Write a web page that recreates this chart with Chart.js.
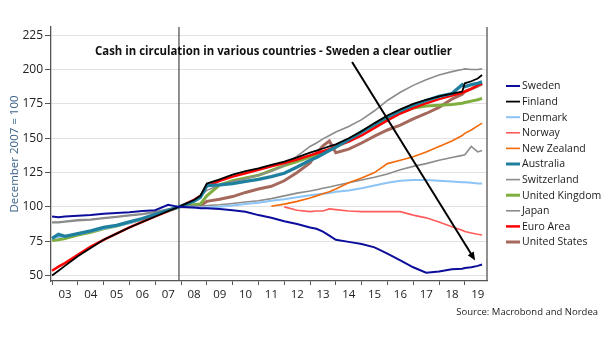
<!DOCTYPE html>
<html>
<head>
<meta charset="utf-8">
<script src="https://cdn.jsdelivr.net/npm/chart.js@4/dist/chart.umd.min.js"></script>
<style>
  html, body { margin: 0; padding: 0; background: #fff; }
  #wrap { position: relative; width: 605px; height: 341px; }
</style>
</head>
<body>
<div id="wrap"><canvas id="chart" width="605" height="341"></canvas></div>
<script>
/*************** Data (Dec 2007 = 100) *************************************/

var dates = [2003, 2003.25, 2003.5, 2004, 2004.5, 2005, 2005.5, 2006, 2006.5, 2007, 2007.5, 2007.92,
    2008.5, 2008.75, 2009, 2009.5, 2010, 2010.5, 2011, 2011.5, 2012, 2012.5, 2013, 2013.25, 2013.5, 2013.75,
    2014, 2014.5, 2015, 2015.5, 2016, 2016.5, 2017, 2017.5, 2018, 2018.5, 2018.9, 2019, 2019.25, 2019.5, 2019.67];

var yearTicks = [2003, 2004, 2005, 2006, 2007, 2008, 2009, 2010, 2011, 2012, 2013, 2014, 2015, 2016, 2017, 2018, 2019];
var valueTicks = [50, 75, 100, 125, 150, 175, 200, 225];

var sweden = [93, 92.5, 93, 93.5, 94, 95, 95.5, 96, 97, 97.5, 101.5, 100,
    99.5, 99, 99, 98.5, 97.5, 96.5, 94, 92, 89.5, 87.5, 85, 84, 82, 79,
    76, 74.5, 73, 70.5, 66, 61, 56, 52, 53, 54.5, 55, 55.5, 56, 57, 58];
var finland = [50, 53.5, 57, 64, 70, 76, 80.5, 85, 89, 93, 97, 100,
    105, 108, 117, 120, 123.5, 126, 128, 130.5, 133, 136, 139.5, 141, 142.5, 144,
    145.5, 150, 155, 161, 166.5, 171, 175, 178, 180.5, 182.5, 184, 190, 191.5, 193.5, 196];
var denmark = [77, 78, 78.5, 80, 82, 84, 86, 88, 91, 94, 97, 100,
    99.5, 99.5, 99.5, 100, 101, 102, 103, 104.5, 105.5, 107, 108.5, 109, 109.5, 110,
    111, 112, 113.5, 115.5, 117.5, 119, 119.5, 119.5, 119, 118.5, 118, 118, 117.5, 117, 117];
var norway = [null, null, null, null, null, null, null, null, null, null, null, null,
    null, null, null, null, null, null, null, null, 100, 97.5, 96.5, 97, 97, 98.5,
    98, 97, 96.5, 96.5, 96.5, 96.5, 94, 92, 89, 85.5, 83, 82, 81, 80, 79.5];
var newZealand = [null, null, null, null, null, null, null, null, null, null, null, null,
    null, null, null, null, null, null, null, 100.5, 102, 104, 106.5, 108, 109.5, 111,
    113, 117.5, 121, 125, 131.5, 134, 136.5, 140, 144, 148, 152, 153.5, 156, 159, 161];
var australia = [77, 80, 78.5, 80.5, 82.5, 85, 86.5, 89, 91.5, 94.5, 97.5, 100,
    104, 107, 115.5, 116, 117, 118.5, 120, 122, 124.5, 129, 134, 136, 138.5, 141,
    143.5, 149, 154.5, 160, 165.5, 170, 174, 177.5, 180.5, 182.5, 189, 187.5, 189, 190, 191];
var switzerland = [89, 89, 89.5, 90.5, 91, 92, 93, 94, 95, 96.5, 98.5, 100,
    104, 108, 112, 116, 118.5, 120.5, 123, 126, 130, 137, 144, 146.5, 149.5, 152,
    154.5, 158.5, 163.5, 170, 177.5, 183.5, 188.5, 192.5, 196, 198.5, 200, 200.5, 200, 200, 200.5];
var unitedKingdom = [75.5, 76, 77, 79.5, 81.5, 84, 86, 88.5, 91, 94, 97, 100,
    101.5, 102, 108, 116, 119, 121, 123, 126.5, 130, 133, 136.5, 138, 139.5, 141.5,
    143.5, 148.5, 155, 159.5, 164, 168.5, 172, 173.5, 174, 174.5, 175.5, 176, 177, 178, 179];
var japan = [88.5, 88.5, 89, 90, 90.5, 91.5, 92.5, 93.5, 94.5, 96, 98, 100,
    100.5, 100.5, 101, 101.5, 102.5, 103.5, 104.5, 106, 108, 110, 111.5, 112.5, 113.5, 114.5,
    115.5, 117.5, 119.5, 121.5, 124, 127, 129.5, 131.5, 134, 136, 137.5, 138, 144, 140, 141];
var euroArea = [53.5, 56.5, 59, 65, 71, 76, 80.5, 85, 89, 93, 97, 100,
    105, 108, 115, 119, 122, 124.5, 127, 129.5, 132, 134.5, 137.5, 139, 140.5, 142,
    144, 147.5, 152, 157.5, 163, 168, 172, 175.5, 178.5, 181, 183, 184, 186, 188.5, 190];
var unitedStates = [null, null, null, null, null, null, null, null, null, null, null, 100,
    100, 101, 104, 105.5, 107.5, 110.5, 113, 115, 119, 125, 132, 139, 144.5, 148,
    139.5, 142, 146.5, 151.5, 156, 159.5, 164, 168, 172.5, 178.5, 182, 184, 186, 188, 189.5];

var seriesNames = ['Sweden', 'Finland', 'Denmark', 'Norway', 'New Zealand', 'Australia',
    'Switzerland', 'United Kingdom', 'Japan', 'Euro Area', 'United States'];
var seriesValues = [sweden, finland, denmark, norway, newZealand, australia,
    switzerland, unitedKingdom, japan, euroArea, unitedStates];
var seriesColors = ['#0d0d9c', '#000000', '#8cc4f5', '#ff5c5c', '#f26a0a', '#1f7f9e',
    '#8c8c8c', '#7fae3e', '#8c8c8c', '#ff0000', '#a4695c'];
var seriesWidths = [2, 1.8, 2, 1.6, 1.6, 3.3, 1.6, 3, 1.6, 2.5, 3];
var seriesOrder = [0, 1, 6, 5, 4, 2, 8, 9, 7, 3, 10]; // lower = drawn on top

var title = 'Cash in circulation in various countries - Sweden a clear outlier';
var source = 'Source: Macrobond and Nordea';

/*************** Building datasets ****************/

function buildDatasets() {
    var sets = [], i, j, pts;
    for (i = 0; i < seriesNames.length; i++) {
        pts = [];
        for (j = 0; j < dates.length; j++) {
            if (seriesValues[i][j] !== null) pts.push({x: dates[j], y: seriesValues[i][j]});
        }
        sets.push({
            label: seriesNames[i],
            data: pts,
            borderColor: seriesColors[i],
            borderWidth: seriesWidths[i],
            pointRadius: 0,
            tension: 0,
            fill: false,
            order: seriesOrder[i]
        });
    }
    return sets;
}

/*************** Extra drawing: Dec 2007 line, frame, arrow, texts, legend ****************/

var extras = {
    id: 'extras',
    beforeDatasetsDraw: function(chart) {
        var ctx = chart.ctx, a = chart.chartArea, xs = chart.scales.x;
        var xv = xs.getPixelForValue(2007.92);
        ctx.save();
        ctx.strokeStyle = '#555';
        ctx.lineWidth = 1.3;
        ctx.beginPath();
        ctx.moveTo(xv, a.top); ctx.lineTo(xv, a.bottom);
        ctx.moveTo(a.right, a.top); ctx.lineTo(a.right, a.bottom);
        ctx.stroke();
        ctx.restore();
    },
    afterDatasetsDraw: function(chart) {
        var ctx = chart.ctx, xs = chart.scales.x, ys = chart.scales.y;
        var x1 = xs.getPixelForValue(2014.63), y1 = ys.getPixelForValue(205.5);
        var x2 = xs.getPixelForValue(2019.4), y2 = ys.getPixelForValue(61);
        var ang = Math.atan2(y2 - y1, x2 - x1), head = 9;
        ctx.save();
        ctx.strokeStyle = '#000';
        ctx.fillStyle = '#000';
        ctx.lineWidth = 2;
        ctx.beginPath();
        ctx.moveTo(x1, y1);
        ctx.lineTo(x2 - Math.cos(ang) * head * 0.8, y2 - Math.sin(ang) * head * 0.8);
        ctx.stroke();
        ctx.beginPath();
        ctx.moveTo(x2, y2);
        ctx.lineTo(x2 - head * Math.cos(ang - 0.4), y2 - head * Math.sin(ang - 0.4));
        ctx.lineTo(x2 - head * Math.cos(ang + 0.4), y2 - head * Math.sin(ang + 0.4));
        ctx.closePath();
        ctx.fill();

        // title inside the plot
        ctx.font = 'bold 13px "Liberation Sans Narrow", "Open Sans"';
        ctx.textAlign = 'center';
        ctx.textBaseline = 'alphabetic';
        ctx.fillStyle = '#111';
        ctx.fillText(title, 273.5, 55, 357);

        // source
        ctx.font = '9.5px "Open Sans"';
        ctx.textAlign = 'right';
        ctx.fillStyle = '#222';
        ctx.fillText(source, 598, 315);

        // legend
        ctx.font = '10.5px "Open Sans"';
        ctx.textAlign = 'left';
        ctx.textBaseline = 'middle';
        for (var i = 0; i < seriesNames.length; i++) {
            var ly = 86 + i * 15.6;
            ctx.strokeStyle = seriesColors[i];
            ctx.lineWidth = Math.min(seriesWidths[i], 3);
            ctx.beginPath();
            ctx.moveTo(506, ly); ctx.lineTo(520, ly);
            ctx.stroke();
            ctx.fillStyle = '#1a1a1a';
            ctx.fillText(seriesNames[i], 522, ly + 0.5);
        }
        ctx.restore();
    }
};

/*************** Creating chart ****************/

function createChart() {
    new Chart(document.getElementById('chart'), {
        type: 'line',
        data: { datasets: buildDatasets() },
        options: {
            responsive: false,
            animation: false,
            layout: { padding: { left: 0, right: 118, top: 27, bottom: 40 } },
            plugins: { legend: { display: false }, tooltip: { enabled: false } },
            scales: {
                x: {
                    type: 'linear',
                    min: 2002.96,
                    max: 2019.86,
                    afterBuildTicks: function(axis) {
                        axis.ticks = yearTicks.map(function(v) { return {value: v}; });
                    },
                    afterFit: function(axis) { axis.height = 20; },
                    grid: { drawOnChartArea: false, tickLength: 4, tickColor: '#555' },
                    border: { color: '#555', width: 1.3 },
                    ticks: {
                        autoSkip: false,
                        maxRotation: 0,
                        labelOffset: 13,
                        padding: 3,
                        color: '#222',
                        font: { family: '"Open Sans"', size: 11.5 },
                        callback: function(v) { return String(v % 100).padStart(2, '0'); }
                    }
                },
                y: {
                    min: 46,
                    max: 231,
                    afterBuildTicks: function(axis) {
                        axis.ticks = valueTicks.map(function(v) { return {value: v}; });
                    },
                    afterFit: function(axis) { axis.width = 51; },
                    grid: { color: '#e2e2e2', lineWidth: 1, tickLength: 6, tickColor: '#555' },
                    border: { color: '#555', width: 1.3 },
                    ticks: {
                        padding: 2,
                        color: '#222',
                        font: { family: '"Open Sans"', size: 12 }
                    },
                    title: {
                        display: true,
                        text: 'December 2007 = 100',
                        color: '#3a6289',
                        font: { family: '"Open Sans"', size: 11.5 },
                        padding: { top: 8, bottom: 0 }
                    }
                }
            }
        },
        plugins: [extras]
    });
}

createChart();
</script>
</body>
</html>
